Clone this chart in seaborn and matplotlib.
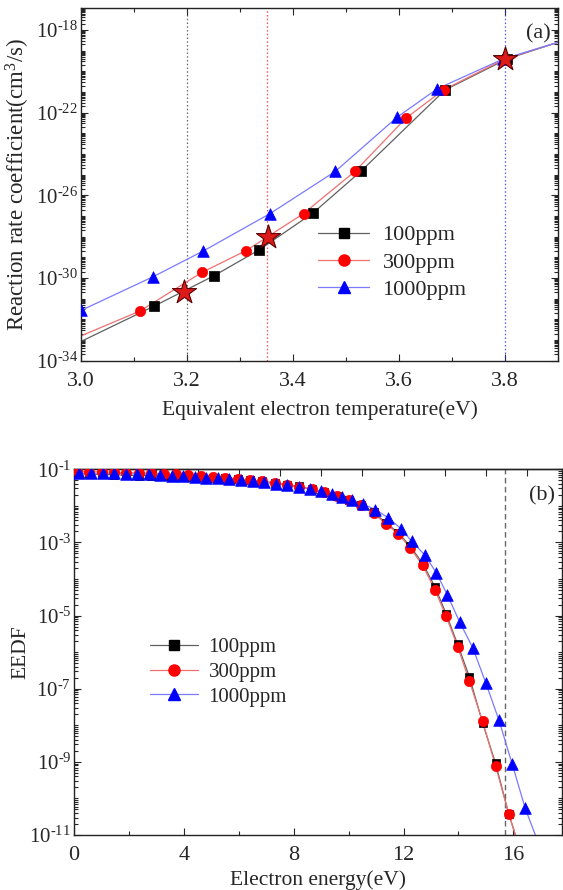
import numpy as np
import pandas as pd
import matplotlib
matplotlib.use("Agg")
import matplotlib.pyplot as plt
import seaborn as sns
from matplotlib.ticker import FixedLocator, LogLocator, NullFormatter, MultipleLocator, FuncFormatter
from matplotlib.lines import Line2D

# ---------------- data : panel (a) ----------------
series_labels = ["100ppm", "300ppm", "1000ppm"]

te_100 = [3.138, 3.251, 3.336, 3.438, 3.528, 3.687, 3.804]
k_100_exp = [-31.36, -29.89, -28.64, -26.85, -24.84, -20.90, -19.40]
te_300 = [3.111, 3.228, 3.312, 3.420, 3.517, 3.613, 3.684, 3.800]
k_300_exp = [-31.60, -29.73, -28.67, -26.88, -24.84, -22.27, -20.90, -19.40]
te_1000 = [3.000, 3.135, 3.231, 3.357, 3.480, 3.596, 3.672, 3.797]
k_1000_exp = [-31.57, -29.95, -28.69, -26.88, -24.84, -22.23, -20.85, -19.40]

# curve ends (line only)
curve_start_te = [3.0, 3.0, 3.0]
curve_start_exp = [-33.07, -32.80, -31.60]
curve_end_te = [3.9, 3.9, 3.9]
curve_end_exp = [-18.60, -18.60, -18.60]

star_te = [3.195, 3.352, 3.800]
star_exp = [-30.69, -28.00, -19.40]
ref_te = [3.2, 3.35, 3.8]

# ---------------- data : panel (b) ----------------
e_100 = [0.11, 0.56, 1.01, 1.46, 1.91, 2.36, 2.81, 3.26, 3.71, 4.16, 4.61, 5.06,
         5.51, 5.96, 6.41, 6.86, 7.31, 7.76, 8.21, 8.66, 9.11, 9.56, 10.01, 10.46,
         10.91, 11.36, 11.81, 12.24, 12.70, 13.15, 13.55, 13.97, 14.40, 14.88,
         15.35, 15.83]
eedf_100_exp = [-1.12, -1.13, -1.14, -1.15, -1.16, -1.17, -1.17, -1.18, -1.19, -1.20,
                -1.21, -1.23, -1.25, -1.27, -1.30, -1.33, -1.37, -1.42, -1.47, -1.55,
                -1.63, -1.72, -1.83, -1.97, -2.18, -2.46, -2.74, -3.10, -3.58, -4.22,
                -4.95, -5.79, -6.68, -7.94, -9.04, -10.42]
e_300 = e_100
eedf_300_exp = [-1.06, -1.07, -1.07, -1.08, -1.09, -1.10, -1.11, -1.12, -1.14, -1.16,
                -1.18, -1.20, -1.23, -1.26, -1.29, -1.33, -1.37, -1.42, -1.48, -1.55,
                -1.63, -1.72, -1.84, -1.98, -2.20, -2.50, -2.76, -3.15, -3.63, -4.31,
                -5.02, -5.85, -6.80, -7.89, -9.11, -10.42]
e_1000 = [0.20, 0.62, 1.04, 1.46, 1.88, 2.30, 2.72, 3.14, 3.56, 3.98, 4.40, 4.82,
          5.24, 5.66, 6.08, 6.50, 6.92, 7.34, 7.76, 8.18, 8.60, 9.00, 9.38, 9.76,
          10.14, 10.52, 10.97, 11.45, 11.90, 12.30, 12.78, 13.20, 13.60, 14.04,
          14.52, 15.00, 15.47, 15.96, 16.43]
eedf_1000_exp = [-1.10, -1.10, -1.11, -1.11, -1.12, -1.13, -1.14, -1.15, -1.17, -1.19,
                 -1.21, -1.23, -1.25, -1.27, -1.30, -1.33, -1.36, -1.40, -1.44, -1.49,
                 -1.54, -1.60, -1.67, -1.75, -1.84, -1.95, -2.10, -2.33, -2.62, -2.97,
                 -3.35, -3.84, -4.44, -5.17, -5.88, -6.85, -7.85, -9.07, -10.27]
tail_e = [16.20, 16.20, 16.95]
tail_exp = [-11.30, -11.30, -11.30]
ionization_e = 15.7

# ---------------- style ----------------
sns.set_theme(style="ticks")
plt.rcParams["font.family"] = ["Liberation Serif", "DejaVu Serif"]
plt.rcParams["mathtext.fontset"] = "custom"
plt.rcParams["mathtext.rm"] = "Liberation Serif"
plt.rcParams["mathtext.it"] = "Liberation Serif:italic"
plt.rcParams["mathtext.bf"] = "Liberation Serif:bold"
plt.rcParams["axes.linewidth"] = 1.0

marker_colors = ["#000000", "#ff0000", "#0000ff"]
line_colors = ["#606060", "#f07070", "#7a7aff"]
markers = ["s", "o", "^"]


def log_label(v, pos):
    e = int(round(np.log10(v)))
    sign = "\u2010" if e < 0 else ""
    return r"$\mathrm{10}^{\mathrm{%s%d}}$" % (sign, abs(e))


W, H = 563, 890
fig = plt.figure(figsize=(W / 100, H / 100), dpi=100)
ax1 = fig.add_axes([81 / W, 1 - 360.7 / H, 477 / W, 352.7 / H])
ax2 = fig.add_axes([74 / W, 1 - 835 / H, 488 / W, 365.7 / H])

# ---------------- panel (a) ----------------
te_sets = [te_100, te_300, te_1000]
k_sets = [k_100_exp, k_300_exp, k_1000_exp]
ref_colors = ["#444444", "#ff2020", "#3030ff"]
for x, c in zip(ref_te, ref_colors):
    ax1.axvline(x, color=c, ls=(0, (1.2, 1.8)), lw=0.9, alpha=0.8, zorder=1)

ms_a = [42, 55, 70]
for i in range(3):
    xs = [curve_start_te[i]] + te_sets[i] + [curve_end_te[i]]
    ys = 10.0 ** np.array([curve_start_exp[i]] + k_sets[i] + [curve_end_exp[i]])
    sns.lineplot(x=xs, y=ys, ax=ax1, color=line_colors[i], lw=0.9, sort=False,
                 estimator=None, zorder=2)
for i in range(3):
    sns.scatterplot(x=te_sets[i], y=10.0 ** np.array(k_sets[i]), ax=ax1,
                    marker=markers[i], color=marker_colors[i], s=ms_a[i],
                    edgecolor=marker_colors[i], linewidth=0.5, zorder=3)
sns.scatterplot(x=star_te, y=10.0 ** np.array(star_exp), ax=ax1, marker="*",
                color="#dd1a1a", s=330, edgecolor="#5a0000", linewidth=0.8, zorder=5)

ax1.set_yscale("log")
ax1.set_xlim(3.0, 3.9)
ax1.set_ylim(1e-34, 10 ** -16.94)
ax1.xaxis.set_major_locator(MultipleLocator(0.2))
ax1.xaxis.set_minor_locator(MultipleLocator(0.1))
ax1.xaxis.set_major_formatter(FuncFormatter(lambda v, p: f"{v:.1f}"))
ax1.yaxis.set_major_locator(FixedLocator(10.0 ** np.arange(-34, -17, 4)))
ax1.yaxis.set_minor_locator(LogLocator(base=10, subs=np.arange(1, 10), numticks=200))
ax1.yaxis.set_minor_formatter(NullFormatter())
ax1.yaxis.set_major_formatter(FuncFormatter(log_label))
ax1.set_xlabel("Equivalent electron temperature(eV)", fontsize=15.5, labelpad=7)
ax1.set_ylabel(r"Reaction rate coefficient(cm$^3$/s)", fontsize=16.5)
ax1.yaxis.set_label_coords(-0.103, 0.5)
ax1.text(0.985, 0.955, "(a)", transform=ax1.transAxes, ha="right", va="top", fontsize=16)

handles = [Line2D([0], [0], color=line_colors[i], lw=0.9, marker=markers[i],
                  mfc=marker_colors[i], mec=marker_colors[i], ms=[7, 8, 9][i])
           for i in range(3)]
ax1.legend(handles, series_labels, loc="upper left", bbox_to_anchor=(0.497, 0.385),
           frameon=False, fontsize=16, handlelength=2.3, handletextpad=0.6,
           labelspacing=0.3, borderpad=0, borderaxespad=0)

# ---------------- panel (b) ----------------
e_sets = [e_100, e_300, e_1000]
f_sets = [eedf_100_exp, eedf_300_exp, eedf_1000_exp]
ax2.axvline(ionization_e, color="#666666", ls=(0, (4, 2.5)), lw=1.0, zorder=1)
ms_b = [30, 55, 70]
for i in range(3):
    xs = e_sets[i] + [tail_e[i]]
    ys = 10.0 ** np.array(f_sets[i] + [tail_exp[i]])
    sns.lineplot(x=xs, y=ys, ax=ax2, color=line_colors[i], lw=0.9, sort=False,
                 estimator=None, zorder=2)
for i in range(3):
    sns.scatterplot(x=e_sets[i], y=10.0 ** np.array(f_sets[i]), ax=ax2,
                    marker=markers[i], color=marker_colors[i], s=ms_b[i],
                    edgecolor=marker_colors[i], linewidth=0.5, zorder=3 + i)

ax2.set_yscale("log")
ax2.set_xlim(0, 17.77)
ax2.set_ylim(1e-11, 1e-1)
ax2.xaxis.set_major_locator(MultipleLocator(4))
ax2.xaxis.set_minor_locator(MultipleLocator(2))
ax2.yaxis.set_major_locator(FixedLocator(10.0 ** np.arange(-11, 0, 2)))
ax2.yaxis.set_minor_locator(LogLocator(base=10, subs=np.arange(1, 10), numticks=200))
ax2.yaxis.set_minor_formatter(NullFormatter())
ax2.yaxis.set_major_formatter(FuncFormatter(log_label))
ax2.set_xlabel("Electron energy(eV)", fontsize=15.5, labelpad=4)
ax2.set_ylabel("EEDF", fontsize=15.5)
ax2.yaxis.set_label_coords(-0.09, 0.5)
ax2.text(0.985, 0.955, "(b)", transform=ax2.transAxes, ha="right", va="top", fontsize=16)
ax2.legend(handles, series_labels, loc="upper left", bbox_to_anchor=(0.156, 0.54),
           frameon=False, fontsize=15, handlelength=2.3, handletextpad=0.5,
           labelspacing=0.25, borderpad=0, borderaxespad=0)

sec = ax2.secondary_xaxis("top")
sec.set_xticks(np.arange(0, 18, 1.5))
sec.tick_params(axis="x", direction="in", length=5, width=0.8, labeltop=False)
sec.set_xticklabels([])

for ax in (ax1, ax2):
    ax.tick_params(which="both", direction="in", width=0.8)
    ax.tick_params(axis="x", labelsize=16, pad=8)
    ax.tick_params(axis="y", labelsize=15, pad=2)
    ax.tick_params(which="major", length=5)
    ax.tick_params(which="minor", length=3)
    ax.tick_params(axis="y", which="both", left=True, right=True)
ax1.tick_params(axis="x", which="both", top=True, bottom=True)
ax2.tick_params(axis="x", which="both", top=False, bottom=True)
for ax in (ax1, ax2):
    for s in ax.spines.values():
        s.set_visible(True)
        s.set_color("#222222")

fig.savefig("out.png", dpi=100)
